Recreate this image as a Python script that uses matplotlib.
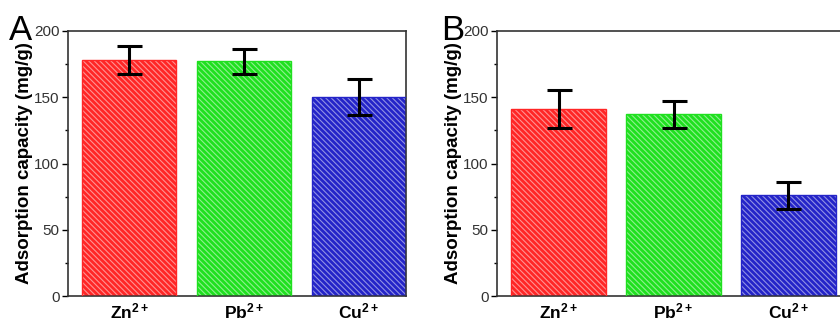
import numpy as np
import matplotlib
matplotlib.use("Agg")
import matplotlib.pyplot as plt

# Adsorption capacity of the three metal ions, panels A and B

ions = ["Zn", "Pb", "Cu"]
ion_labels = [r"$\mathbf{Zn^{2+}}$", r"$\mathbf{Pb^{2+}}$", r"$\mathbf{Cu^{2+}}$"]
colors = ["#ff2626", "#1fe01f", "#2424c8"]

cap_a = [178, 177, 150]
err_a = [10.5, 9.5, 13.5]

cap_b = [141, 137, 76]
err_b = [14.5, 10, 10]

plt.rcParams["font.family"] = ["Liberation Sans", "DejaVu Sans"]
plt.rcParams["mathtext.fontset"] = "custom"
plt.rcParams["mathtext.bf"] = "Liberation Sans:bold"
plt.rcParams["mathtext.rm"] = "Liberation Sans"
plt.rcParams["hatch.linewidth"] = 0.8

fig = plt.figure(figsize=(8.4, 3.23), dpi=100)
W, H = 840, 323

def draw_panel(left_px, right_px, values, errors, letter, letter_x, xmax):
    ax = fig.add_axes([left_px / W, (H - 296) / H, (right_px - left_px) / W, (296 - 31) / H])
    x = np.arange(len(values))
    # coloured fill with white diagonal hatching
    ax.bar(x, values, width=0.82, color=colors, edgecolor=(1, 1, 1, 0.5),
           hatch="\\\\\\\\\\\\", linewidth=0, zorder=2)
    ax.bar(x, values, width=0.82, fill=False, edgecolor=colors, linewidth=1.0, zorder=3)
    ax.errorbar(x, values, yerr=errors, fmt="none", ecolor="black",
                elinewidth=2.2, capsize=9, capthick=2.2, zorder=4)
    ax.set_xlim(-0.535, xmax)
    ax.set_ylim(0, 200)
    ax.set_yticks([0, 50, 100, 150, 200])
    ax.set_yticks([25, 75, 125, 175], minor=True)
    ax.tick_params(axis="y", which="major", direction="out", length=4, width=1,
                   labelsize=11, labelcolor="#333333", pad=2)
    ax.tick_params(axis="y", which="minor", direction="out", length=2.5, width=1)
    ax.set_xticks(x)
    ax.set_xticklabels(ion_labels, fontsize=12.5)
    ax.tick_params(axis="x", length=0, pad=4)
    for s in ax.spines.values():
        s.set_linewidth(1.2)
        s.set_color("#333333")
    ax.set_ylabel("Adsorption capacity (mg/g)", fontsize=13.5, fontweight="bold", labelpad=1)
    fig.text(letter_x / W, 1 - 30 / H, letter, fontsize=25, ha="left", va="center")
    return ax

draw_panel(68, 406, cap_a, err_a, "A", 9, 2.41)
ax_b = draw_panel(497, 840, cap_b, err_b, "B", 441, 2.448)
ax_b.spines["right"].set_visible(False)

fig.savefig("out.png", dpi=100)
